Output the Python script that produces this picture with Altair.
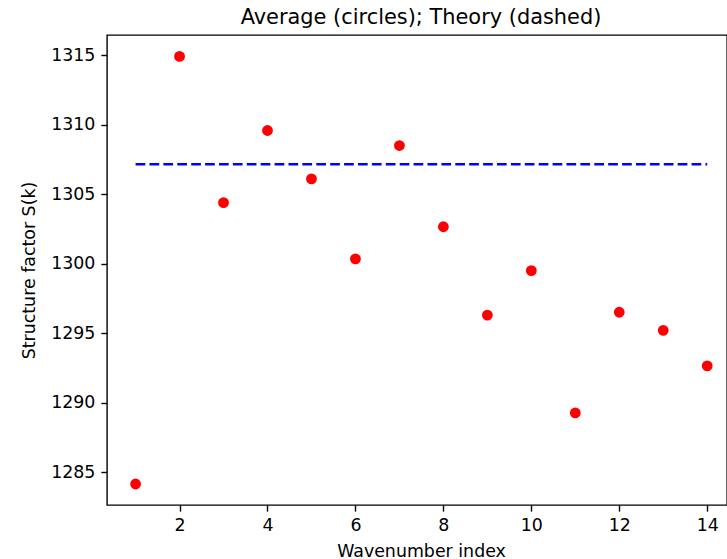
import altair as alt
import pandas as pd

# Averaged structure factor for each wavenumber index
k_index = [1, 2, 3, 4, 5, 6, 7, 8, 9, 10, 11, 12, 13, 14]
s_avg = [1284.16, 1314.91, 1304.39, 1309.58, 1306.10, 1300.35, 1308.50,
         1302.66, 1296.31, 1299.51, 1289.27, 1296.51, 1295.21, 1292.66]

# Theoretical value, drawn across the full index range
s_theory = 1307.15
theory_range = [1, 14]

x_ticks = [2, 4, 6, 8, 10, 12, 14]
y_ticks = [1285, 1290, 1295, 1300, 1305, 1310, 1315]

FONT = "DejaVu Sans"

points = pd.DataFrame({"k": k_index, "S": s_avg})
theory = pd.DataFrame({"k": [theory_range[0]], "k2": [theory_range[1]], "S": [s_theory]})

x_scale = alt.Scale(domain=[0.35, 14.45], nice=False, zero=False)
y_scale = alt.Scale(domain=[1282.65, 1316.45], nice=False, zero=False)

x_axis = alt.Axis(
    values=x_ticks, format="d", title="Wavenumber index", grid=False, domain=False,
    titleX=314, titleY=51, titleBaseline="alphabetic", titleAlign="center",
    labelPadding=5, labelBaseline="top",
)
y_axis = alt.Axis(
    values=y_ticks, format="d", title="Structure factor S(k)", grid=False, domain=False,
    titleX=-78, titleY=235, titleBaseline="middle", titleAlign="center", titleAngle=-90,
    labelPadding=6,
)

dots = alt.Chart(points).mark_circle(size=117, color="#ff0000", opacity=1).encode(
    x=alt.X("k:Q", scale=x_scale, axis=x_axis),
    y=alt.Y("S:Q", scale=y_scale, axis=y_axis),
)

line = alt.Chart(theory).mark_rule(
    color="#0000ff", strokeWidth=2.6, strokeDash=[9.7, 4.2]
).encode(
    x=alt.X("k:Q", scale=x_scale),
    x2="k2:Q",
    y=alt.Y("S:Q", scale=y_scale),
)

chart = (
    alt.layer(dots, line)
    .properties(
        width=620,
        height=470,
        background="white",
        autosize=alt.AutoSizeParams(type="none"),
        padding={"left": 107, "top": 35, "right": 0, "bottom": 54},
        title=alt.TitleParams(
            "Average (circles); Theory (dashed)",
            font=FONT, fontSize=20.9, fontWeight="normal", color="#000000",
            anchor="middle", dx=4, offset=11, dy=21, baseline="alphabetic", frame="group",
        ),
    )
    .configure_view(stroke="#000000", strokeWidth=1.4, fill="white")
    .configure_axis(
        labelFont=FONT, labelFontSize=17.4, labelColor="#000000",
        titleFont=FONT, titleFontSize=17.4, titleColor="#000000", titleFontWeight="normal",
        tickColor="#000000", tickWidth=1.4, tickSize=6.1,
    )
)

chart.save("out.html", embed_options={"renderer": "svg", "actions": False})
